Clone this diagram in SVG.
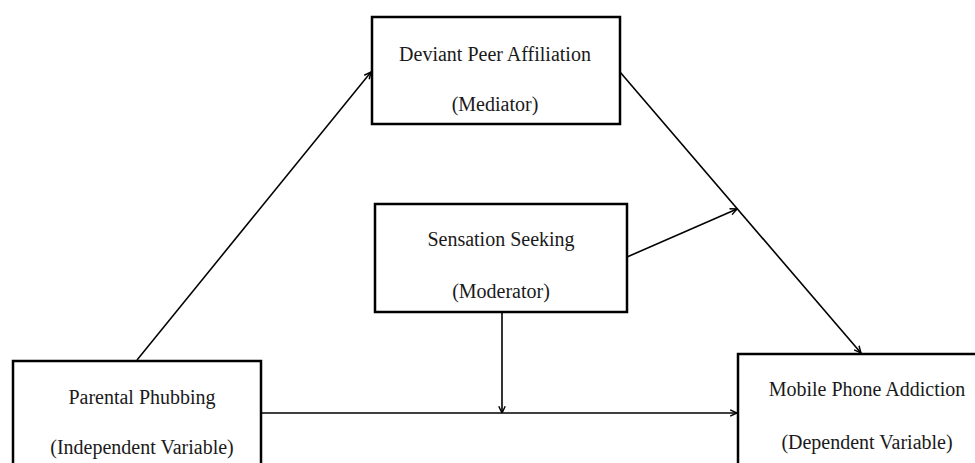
<svg xmlns="http://www.w3.org/2000/svg" width="975" height="463" viewBox="0 0 975 463">
<style>
.box{fill:#fff;stroke:#000;stroke-width:2.5}
.lbl{font-family:"Liberation Serif","Times New Roman",serif;font-size:20px;fill:#1a1a1a;text-anchor:middle}
.edge{fill:none;stroke:#000;stroke-width:1.6;marker-end:url(#ah)}
</style>
<defs>
<marker id="ah" viewBox="0 0 10 10" refX="9.5" refY="5" markerWidth="8" markerHeight="8" markerUnits="userSpaceOnUse" orient="auto">
<path d="M1,1 L9.5,5 L1,9" fill="none" stroke="#000" stroke-width="1.8"/>
</marker>
</defs>
<rect width="975" height="463" fill="#fff"/>
<g id="connectors">
<line class="edge" x1="137" y1="360" x2="371" y2="72"/>
<line class="edge" x1="620" y1="72" x2="861" y2="353"/>
<line class="edge" x1="627" y1="257" x2="737" y2="209"/>
<line class="edge" x1="262" y1="413" x2="737" y2="413"/>
<line class="edge" x1="502" y1="312" x2="502" y2="413"/>
</g>
<g id="mediator">
<rect class="box" x="372" y="17" width="248" height="107"/>
<text class="lbl" x="495" y="61">Deviant Peer Affiliation</text>
<text class="lbl" x="495" y="111">(Mediator)</text>
</g>
<g id="moderator">
<rect class="box" x="375" y="204" width="252" height="108"/>
<text class="lbl" x="501" y="246">Sensation Seeking</text>
<text class="lbl" x="501" y="298">(Moderator)</text>
</g>
<g id="independent">
<rect class="box" x="13" y="361" width="248" height="120"/>
<text class="lbl" x="142" y="404">Parental Phubbing</text>
<text class="lbl" x="142" y="454">(Independent Variable)</text>
</g>
<g id="dependent">
<rect class="box" x="738" y="354" width="260" height="120"/>
<text class="lbl" x="867" y="396">Mobile Phone Addiction</text>
<text class="lbl" x="867" y="449">(Dependent Variable)</text>
</g>
</svg>
